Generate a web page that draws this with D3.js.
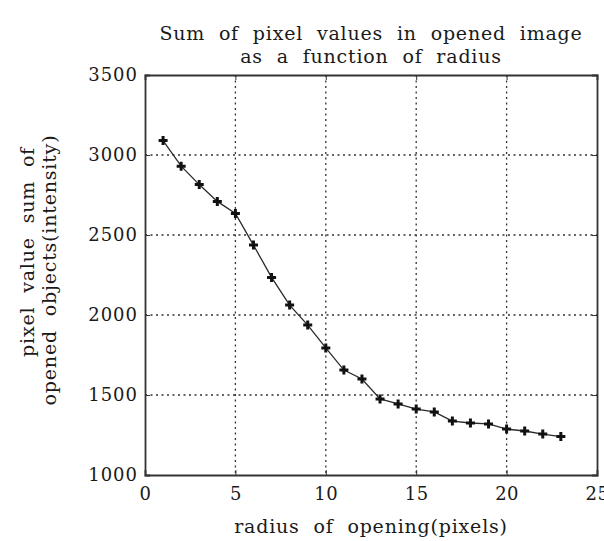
<!DOCTYPE html>
<html>
<head>
<meta charset="utf-8">
<script src="https://cdn.jsdelivr.net/npm/d3@7"></script>
<style>
  body { margin: 0; background: #fff; }
  text { font-family: "DejaVu Serif", "Liberation Serif", serif; fill: #1a1a1a; }
</style>
</head>
<body>
<div id="chart"></div>
<script>
// Data
var radius = [1, 2, 3, 4, 5, 6, 7, 8, 9, 10, 11, 12, 13, 14, 15, 16, 17, 18, 19, 20, 21, 22, 23];
var pixelSum = [3090, 2930, 2815, 2710, 2635, 2437, 2235, 2062, 1937, 1794, 1656, 1600, 1475, 1444, 1412, 1394, 1337, 1325, 1319, 1287, 1275, 1256, 1240];
var xTicks = [0, 5, 10, 15, 20, 25];
var yTicks = [1000, 1500, 2000, 2500, 3000, 3500];

var svgWidth = 604;
var svgHeight = 541;

var margin = { top: 75, right: 7, bottom: 66, left: 145 };
var width = svgWidth - margin.left - margin.right;
var height = svgHeight - margin.top - margin.bottom;

var svg = d3.select("#chart")
    .append("svg")
    .attr("width", svgWidth)
    .attr("height", svgHeight);

var chartGroup = svg.append("g")
    .attr("transform", `translate(${margin.left}, ${margin.top})`);

// Scales
var xScale = d3.scaleLinear().domain([0, 25]).range([0, width]);
var yScale = d3.scaleLinear().domain([1000, 3500]).range([height, 0]);

// Grid lines
chartGroup.append("g").selectAll("line")
    .data(xTicks.slice(1, -1))
    .enter()
    .append("line")
    .attr("x1", d => xScale(d))
    .attr("x2", d => xScale(d))
    .attr("y1", 0)
    .attr("y2", height)
    .attr("stroke", "#333")
    .attr("stroke-width", 1.3)
    .attr("stroke-dasharray", "2,3.5");

chartGroup.append("g").selectAll("line")
    .data(yTicks.slice(1, -1))
    .enter()
    .append("line")
    .attr("x1", 0)
    .attr("x2", width)
    .attr("y1", d => yScale(d))
    .attr("y2", d => yScale(d))
    .attr("stroke", "#333")
    .attr("stroke-width", 1.3)
    .attr("stroke-dasharray", "2,3.5");

// Axes (inward ticks)
var bottomAxis = d3.axisBottom(xScale).tickValues(xTicks).tickSize(-5).tickPadding(12).tickFormat(d3.format("d"));
var leftAxis = d3.axisLeft(yScale).tickValues(yTicks).tickSize(-5).tickPadding(7).tickFormat(d3.format("d"));
var topAxis = d3.axisTop(xScale).tickValues(xTicks).tickSize(-5).tickFormat("");
var rightAxis = d3.axisRight(yScale).tickValues(yTicks).tickSize(-5).tickFormat("");

var xg = chartGroup.append("g").attr("transform", `translate(0, ${height})`).call(bottomAxis);
var yg = chartGroup.append("g").call(leftAxis);
chartGroup.append("g").call(topAxis);
chartGroup.append("g").attr("transform", `translate(${width}, 0)`).call(rightAxis);

chartGroup.selectAll(".domain").attr("stroke", "#333").attr("stroke-width", 1.8);
chartGroup.selectAll(".tick line").attr("stroke", "#333");
xg.selectAll("text").attr("font-size", "18px").attr("letter-spacing", "0.5px");
yg.selectAll("text").attr("font-size", "18px").attr("letter-spacing", "1px");

// Line
var line = d3.line()
    .x((d, i) => xScale(radius[i]))
    .y(d => yScale(d));

chartGroup.append("path")
    .datum(pixelSum)
    .attr("fill", "none")
    .attr("stroke", "#2a2a2a")
    .attr("stroke-width", 1.3)
    .attr("d", line);

// Plus markers
var plus = d3.symbol().type(d3.symbolCross).size(45);
chartGroup.append("g").selectAll("path")
    .data(pixelSum)
    .enter()
    .append("path")
    .attr("d", plus)
    .attr("transform", (d, i) => `translate(${xScale(radius[i])}, ${yScale(d)})`)
    .attr("fill", "#111");

// Title
var labelFont = { size: "19px", letter: "0.8px", word: "7px" };

function addLabel(x, y, rot, str) {
    svg.append("text")
        .attr("transform", `translate(${x}, ${y})` + (rot ? " rotate(-90)" : ""))
        .attr("text-anchor", "middle")
        .attr("font-size", labelFont.size)
        .attr("letter-spacing", labelFont.letter)
        .attr("word-spacing", labelFont.word)
        .text(str);
}

addLabel(margin.left + width / 2, 40, false, "Sum of pixel values in opened image");
addLabel(margin.left + width / 2, 63, false, "as a function of radius");

// Axis labels
addLabel(34, 252, true, "pixel value sum of");
addLabel(56, 270, true, "opened objects(intensity)");
addLabel(margin.left + width / 2, 533, false, "radius of opening(pixels)");
</script>
</body>
</html>
